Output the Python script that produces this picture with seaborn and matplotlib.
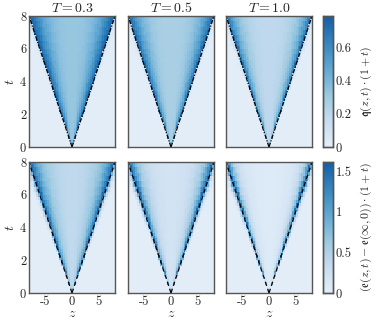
import numpy as np
import pandas as pd
import matplotlib
matplotlib.use("Agg")
import matplotlib.pyplot as plt
import seaborn as sns
from matplotlib.colors import LinearSegmentedColormap

# temperatures (one column per T)
temps = [0.3, 0.5, 1.0]

# grid of the simulation box
z_range = (-8, 8)
t_range = (0, 8)
n_z = 48
n_t = 48

# bins in xi = |z| / t (width 0.05 up to 1.2)
xi_edges = [round(0.05 * k, 2) for k in range(25)]

# q(z,t)(1+t) profiles across the light cone
q_T03 = [0.32, 0.32, 0.32, 0.32, 0.33, 0.33, 0.34, 0.35, 0.36, 0.38,
         0.40, 0.42, 0.45, 0.48, 0.52, 0.56, 0.61, 0.66, 0.71, 0.75,
         0.10, 0.04, 0.02, 0.01]
q_T05 = [0.26, 0.26, 0.26, 0.26, 0.27, 0.27, 0.28, 0.29, 0.30, 0.31,
         0.33, 0.35, 0.37, 0.40, 0.44, 0.48, 0.53, 0.59, 0.66, 0.73,
         0.10, 0.04, 0.02, 0.01]
q_T10 = [0.19, 0.19, 0.19, 0.19, 0.20, 0.20, 0.21, 0.21, 0.22, 0.23,
         0.25, 0.27, 0.29, 0.32, 0.35, 0.39, 0.44, 0.51, 0.60, 0.71,
         0.12, 0.05, 0.02, 0.01]
q_outside = 0.01

# (e(z,t) - e(inf,0))(1+t) profiles
e_T03 = [0.38, 0.38, 0.38, 0.39, 0.40, 0.41, 0.43, 0.45, 0.47, 0.50,
         0.53, 0.57, 0.62, 0.68, 0.75, 0.84, 0.95, 1.10, 1.30, 1.50,
         0.80, 0.35, 0.12, 0.04]
e_T05 = [0.20, 0.20, 0.20, 0.21, 0.21, 0.22, 0.23, 0.25, 0.27, 0.29,
         0.32, 0.36, 0.40, 0.46, 0.53, 0.62, 0.75, 0.95, 1.20, 1.50,
         0.85, 0.35, 0.12, 0.04]
e_T10 = [0.07, 0.07, 0.07, 0.08, 0.08, 0.09, 0.09, 0.10, 0.11, 0.12,
         0.13, 0.15, 0.18, 0.22, 0.28, 0.36, 0.48, 0.68, 1.00, 1.45,
         0.95, 0.40, 0.12, 0.04]
e_outside = 0.02

q_max = 0.79
e_max = 1.61

x_ticks = [-5, 0, 5]
y_ticks = [0, 2, 4, 6, 8]
q_cbar_ticks = [0, 0.2, 0.4, 0.6]
e_cbar_ticks = [0, 0.5, 1, 1.5]

q_label = r"$\mathfrak{q}(z,t)\cdot(1+t)$"
e_label = r"$(\mathfrak{e}(z,t)-\mathfrak{e}(\infty,0))\cdot(1+t)$"


sns.set_style("ticks")
plt.rcParams["font.family"] = "serif"
plt.rcParams["font.serif"] = ["cmr10", "DejaVu Serif"]
plt.rcParams["mathtext.fontset"] = "cm"
plt.rcParams["axes.unicode_minus"] = False
plt.rcParams["axes.formatter.use_mathtext"] = True

z_edges = np.linspace(z_range[0], z_range[1], n_z + 1)
t_edges = np.linspace(t_range[0], t_range[1], n_t + 1)
z_centers = 0.5 * (z_edges[1:] + z_edges[:-1])
t_centers = 0.5 * (t_edges[1:] + t_edges[:-1])
dz = z_edges[1] - z_edges[0]
dt = t_edges[1] - t_edges[0]


def cone_frame(profile, outside):
    zz, tt = np.meshgrid(z_centers, t_centers)
    xi = np.abs(zz) / tt
    idx = np.digitize(xi, xi_edges) - 1
    prof = np.asarray(profile)
    vals = np.where(
        idx < len(prof),
        prof[np.clip(idx, 0, len(prof) - 1)],
        outside
    )
    return pd.DataFrame(vals, index=t_centers, columns=z_centers)


def to_x(z):
    return (np.asarray(z, dtype=float) - z_range[0]) / dz


def to_y(t):
    return (np.asarray(t, dtype=float) - t_range[0]) / dt


cmap = LinearSegmentedColormap.from_list(
    "blues_cut", plt.cm.Blues(np.linspace(0.1, 0.82, 256))
)

W, H = 385, 322
fig = plt.figure(figsize=(W / 100, H / 100), dpi=100)

col_left = [29, 128, 226]
panel_w = 86
row_top = [16, 162]
panel_h = 131
cbar_left = 323
cbar_w = 10

rows = [
    dict(profiles=[q_T03, q_T05, q_T10], outside=q_outside, vmax=q_max,
         ticks=q_cbar_ticks, label=q_label, ls=(0, (3.5, 1.2, 1, 1.2))),
    dict(profiles=[e_T03, e_T05, e_T10], outside=e_outside, vmax=e_max,
         ticks=e_cbar_ticks, label=e_label, ls=(0, (3.5, 2.5))),
]

edge_col = "#555555"
fs = 9

for r, row in enumerate(rows):
    bottom = (H - row_top[r] - panel_h) / H
    cax = fig.add_axes([cbar_left / W, bottom, cbar_w / W, panel_h / H])
    for c, T in enumerate(temps):
        ax = fig.add_axes([col_left[c] / W, bottom, panel_w / W, panel_h / H])
        df = cone_frame(row["profiles"][c], row["outside"])
        sns.heatmap(
            df, ax=ax, cmap=cmap, vmin=0, vmax=row["vmax"],
            cbar=(c == 0), cbar_ax=cax if c == 0 else None,
            xticklabels=False, yticklabels=False, linewidths=0,
            antialiased=False, rasterized=True
        )
        ax.invert_yaxis()

        # light cone z = +-t
        tt = np.array([0.0, 8.0])
        ax.plot(to_x(tt), to_y(tt), color="black", ls=row["ls"], lw=0.9)
        ax.plot(to_x(-tt), to_y(tt), color="black", ls=row["ls"], lw=0.9)

        for s in ax.spines.values():
            s.set_visible(True)
            s.set_color(edge_col)
            s.set_linewidth(1.0)

        ax.set_xticks(to_x(x_ticks))
        ax.set_yticks(to_y(y_ticks))
        ax.tick_params(direction="in", length=2.5, width=0.7, color="#333333",
                       top=True, right=True, labelsize=fs, pad=2)
        if r == 1:
            ax.set_xticklabels([str(v) for v in x_ticks])
            ax.set_xlabel(r"$z$", fontsize=10, labelpad=0)
        else:
            ax.set_xticklabels([])
            ax.set_title(r"$T = %s$" % T, fontsize=10, pad=3)
        if c == 0:
            ax.set_yticklabels([str(v) for v in y_ticks], rotation=0)
            ax.set_ylabel(r"$t$", fontsize=10, labelpad=2)
        else:
            ax.set_yticklabels([])

    cax.set_yticks(row["ticks"])
    cax.set_yticklabels([("%g" % v) for v in row["ticks"]])
    cax.tick_params(direction="in", length=2.5, width=0.7, labelsize=fs, pad=2,
                    color="#333333")
    for s in cax.spines.values():
        s.set_visible(True)
        s.set_color(edge_col)
        s.set_linewidth(1.0)
    cax.set_ylabel(row["label"], fontsize=8.5, rotation=90, labelpad=5)

fig.savefig("out.png", dpi=100)
